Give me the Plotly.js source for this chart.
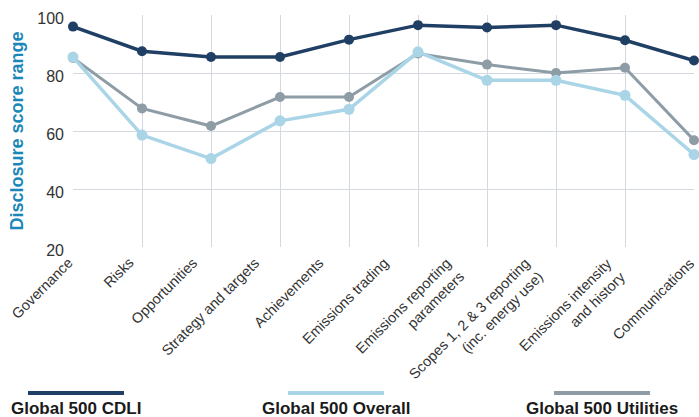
<!DOCTYPE html>
<html>
<head>
<meta charset="utf-8">
<script src="https://cdn.plot.ly/plotly-3.0.1.min.js"></script>
<style>html,body{margin:0;padding:0;background:#fff;}#chart{width:699px;height:417px;}</style>
</head>
<body>
<div id="chart"></div>
<script>
const categories = [
  "Governance",
  "Risks",
  "Opportunities",
  "Strategy and targets",
  "Achievements",
  "Emissions trading",
  "Emissions reporting<br>parameters",
  "Scopes 1, 2 & 3 reporting<br>(inc. energy use)",
  "Emissions intensity<br>and history",
  "Communications"
];
const seriesNames = ["Global 500 CDLI", "Global 500 Overall", "Global 500 Utilities"];
const cdli      = [96, 87.5, 85.5, 85.5, 91.5, 96.5, 95.7, 96.5, 91.3, 84.3];
const overall   = [85.5, 58.6, 50.5, 63.5, 67.5, 87.3, 77.5, 77.5, 72.3, 51.9];
const utilities = [85.2, 67.8, 61.7, 71.7, 71.7, 86.7, 82.9, 80, 81.8, 56.8];
const yTicks = [20, 40, 60, 80, 100];

// layout-only settings (positions/styles)
const colors = ["#203f64", "#a9d5e7", "#8e9ca6"];
const lineWidths = [3.5, 3.5, 3];
const markerSizes = [10, 11, 10];
const labelShiftX = [6, -3, -8, -15, -20, -24, -17, -7, 6, 6];
const legendCenters = [76, 336, 602];

const seriesValues = [cdli, overall, utilities];

// plot area in pixels
const PL = 73, PR = 694, PT = 15, PB = 247;
const px2x = p => (p - PL) / (PR - PL);
const px2y = p => (PB - p) / (PB - PT);

// draw order: utilities, overall, cdli (cdli on top)
const order = [2, 1, 0];
const traces = order.map(i => ({
  type: "scatter",
  mode: "lines+markers",
  name: seriesNames[i],
  x: categories,
  y: seriesValues[i],
  line: {color: colors[i], width: lineWidths[i]},
  marker: {color: colors[i], size: markerSizes[i]},
  cliponaxis: false
}));

const layout = {
  width: 699, height: 417,
  margin: {l: PL, r: 699 - PR, t: PT, b: 417 - PB},
  paper_bgcolor: "#ffffff",
  plot_bgcolor: "#ffffff",
  showlegend: false,
  font: {family: "Liberation Sans, Arial, sans-serif", color: "#333333"},
  xaxis: {
    type: "category",
    range: [0, categories.length - 1],
    showticklabels: false,
    showgrid: true, gridcolor: "#d3d9de", gridwidth: 1,
    zeroline: false, showline: false, ticks: "",
    fixedrange: true
  },
  yaxis: {
    range: [20, 100],
    tickvals: yTicks,
    tickfont: {size: 16, color: "#333333"},
    ticklabelshift: 3,
    ticklabelstandoff: 8,
    showgrid: true, gridcolor: "#d3d9de", gridwidth: 1,
    zeroline: false, showline: false, ticks: "",
    title: {text: "<b>Disclosure score range</b>", font: {size: 18, color: "#1b87b8"}, standoff: 8},
    fixedrange: true
  },
  shapes: [],
  annotations: []
};

// category labels, rotated, right-aligned
categories.forEach((c, i) => {
  layout.annotations.push({
    xref: "x", yref: "paper",
    x: c, y: 0,
    xshift: labelShiftX[i], yshift: -5,
    xanchor: "right", yanchor: "top",
    textangle: -45, align: "right",
    text: c, showarrow: false,
    font: {size: 14.5, color: "#333333"}
  });
});

// custom legend: line sample above bold label
seriesNames.forEach((n, i) => {
  const cx = legendCenters[i];
  layout.shapes.push({
    type: "line", xref: "paper", yref: "paper",
    x0: px2x(cx - 48), x1: px2x(cx + 48),
    y0: px2y(393), y1: px2y(393),
    line: {color: colors[i], width: 4}
  });
  layout.annotations.push({
    xref: "paper", yref: "paper",
    x: px2x(cx), y: px2y(408),
    xanchor: "center", yanchor: "middle",
    text: "<b>" + n + "</b>",
    showarrow: false,
    font: {size: 17, color: "#1a1a1a"}
  });
});

Plotly.newPlot("chart", traces, layout, {displayModeBar: false, staticPlot: true});
</script>
</body>
</html>
